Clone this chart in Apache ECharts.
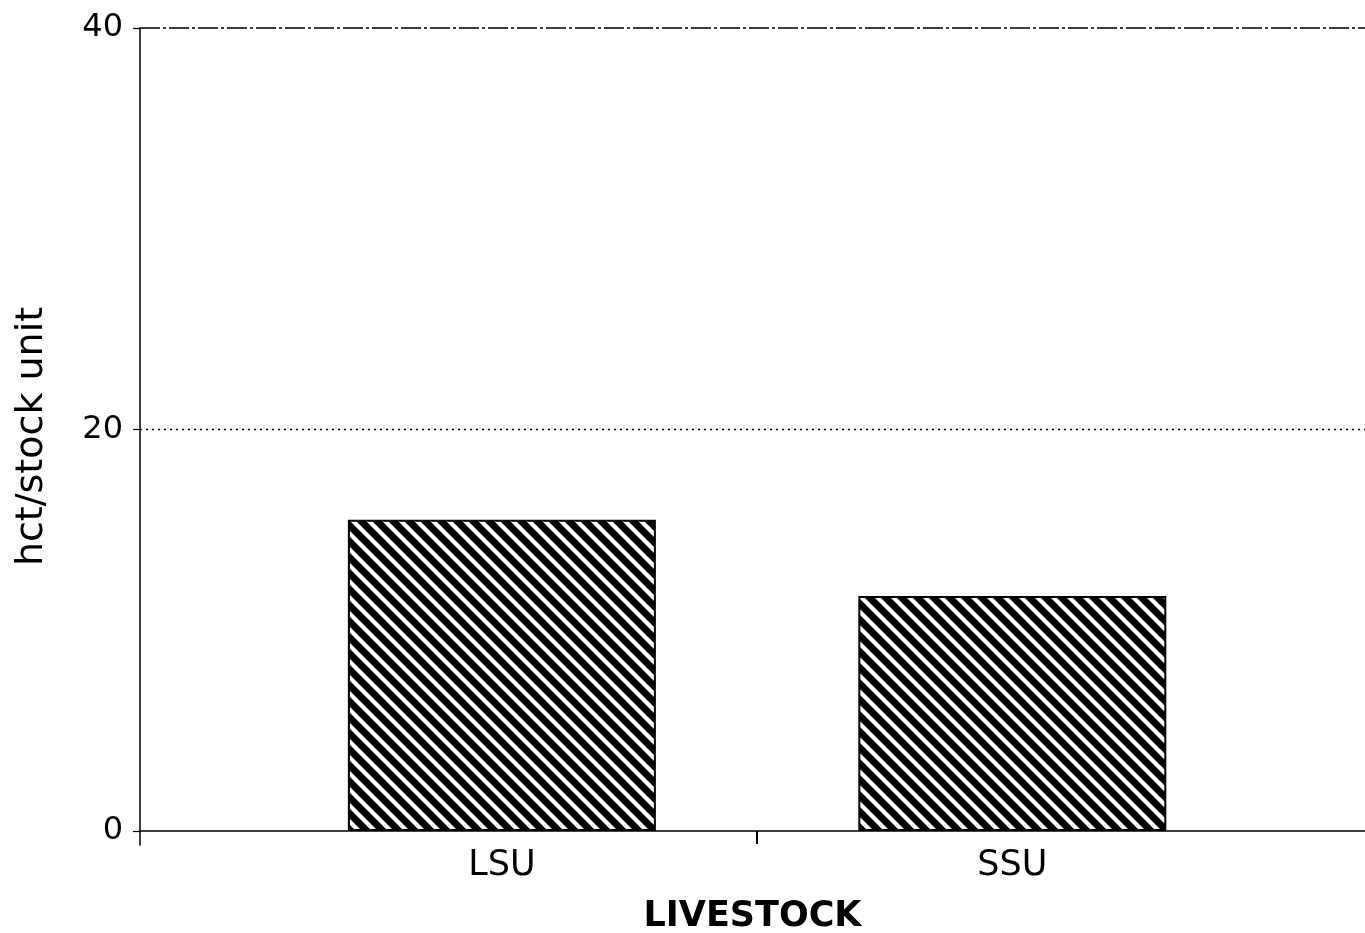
<!DOCTYPE html>
<html>
<head>
<meta charset="utf-8">
<script src="https://cdn.jsdelivr.net/npm/echarts@6/dist/echarts.min.js"></script>
<style>
html,body{margin:0;padding:0;background:#fff;}
#chart{width:1365px;height:933px;}
</style>
</head>
<body>
<div id="chart"></div>
<script>
const categories = ['LSU', 'SSU'];
const categoryPositions = [1, 2];
const values = [15.5, 11.7];
const yTicks = [0, 20, 40];
const gridValues = [20, 40];
const xTitle = 'LIVESTOCK';
const yTitle = 'hct/stock unit';

function makeHatch() {
  const p = 16;
  const c = document.createElement('canvas');
  c.width = p; c.height = p;
  const g = c.getContext('2d');
  g.fillStyle = '#fff';
  g.fillRect(0, 0, p, p);
  g.strokeStyle = '#000';
  g.lineWidth = 7;
  for (let k = -1; k <= 1; k++) {
    g.beginPath();
    g.moveTo(-p + k * p, -p);
    g.lineTo(2 * p + k * p, 2 * p);
    g.stroke();
  }
  return c;
}

const chart = echarts.init(document.getElementById('chart'), null, {renderer: 'canvas'});
const font = 'DejaVu Sans';
const barData = categoryPositions.map((x, i) => [x, values[i]]);

chart.setOption({
  animation: false,
  backgroundColor: '#fff',
  grid: {left: 140, right: 0, top: 28, bottom: 88, containLabel: false, outerBoundsMode: 'none'},
  xAxis: {
    type: 'value',
    min: 0.291,
    max: 2.691,
    name: xTitle,
    nameLocation: 'middle',
    nameGap: 54,
    nameTextStyle: {fontFamily: font, fontSize: 35, fontWeight: 'bold', color: '#000'},
    axisLine: {show: true, onZero: true, lineStyle: {color: '#000', width: 1.5}},
    axisTick: {show: true, customValues: [1.5], length: 13, lineStyle: {color: '#000', width: 2}},
    axisLabel: {
      customValues: categoryPositions,
      formatter: v => categories[categoryPositions.indexOf(v)] || '',
      fontFamily: font, fontSize: 35, color: '#000', margin: 3
    },
    splitLine: {show: false}
  },
  yAxis: {
    type: 'value',
    min: -0.7,
    max: 40,
    name: yTitle,
    nameLocation: 'middle',
    nameGap: 89,
    nameTextStyle: {fontFamily: font, fontSize: 38, color: '#000'},
    axisLine: {show: true, lineStyle: {color: '#000', width: 1.5}},
    axisTick: {show: true, customValues: yTicks, length: 7, lineStyle: {color: '#000', width: 1.2}},
    axisLabel: {customValues: yTicks, fontFamily: font, fontSize: 32, color: '#000', margin: 17},
    splitLine: {show: false}
  },
  series: [{
    type: 'bar',
    data: barData,
    barWidth: 308,
    itemStyle: {
      color: {image: makeHatch(), repeat: 'repeat'},
      borderColor: '#000',
      borderWidth: 2
    },
    markLine: {
      silent: true,
      symbol: 'none',
      label: {show: false},
      data: [
        {yAxis: gridValues[0], lineStyle: {type: [2, 4], color: '#000', width: 1.3}},
        {yAxis: gridValues[1], lineStyle: {type: [20, 3, 3, 3], color: '#000', width: 1.5}}
      ]
    }
  }]
});
</script>
</body>
</html>
